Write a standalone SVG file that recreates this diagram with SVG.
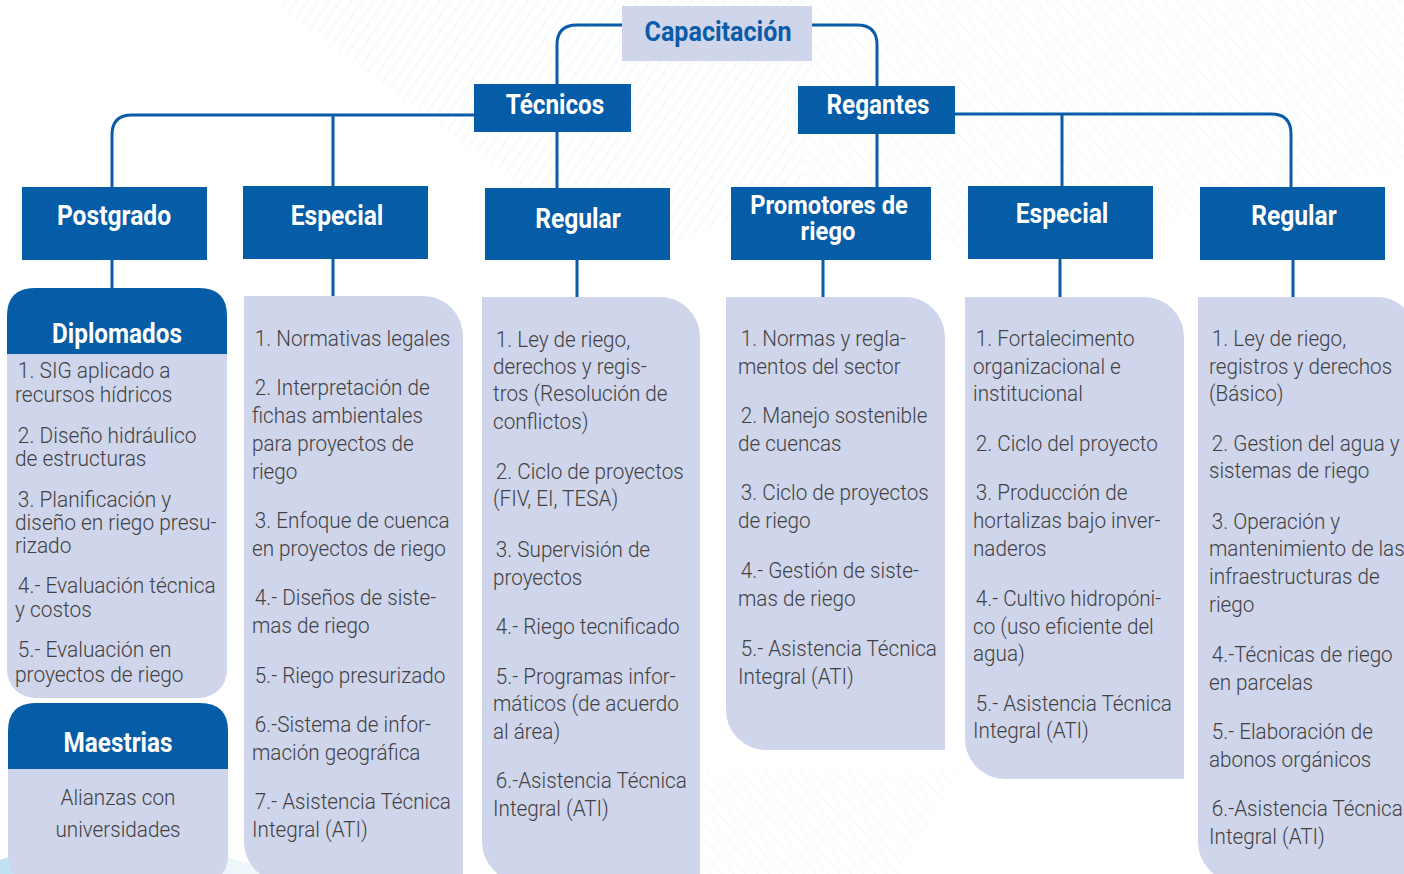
<svg xmlns="http://www.w3.org/2000/svg" width="1404" height="874" viewBox="0 0 1404 874">
<style>
.bx{fill:#055ca7}
.pn{fill:#cfd5ea}
.hd{font-family:Roboto,"Liberation Sans",sans-serif;font-weight:700;fill:#ffffff;text-anchor:middle}
.tt{font-family:Roboto,"Liberation Sans",sans-serif;font-weight:700;fill:#0a5ca8;text-anchor:middle}
.it{font-family:Roboto,"Liberation Sans",sans-serif;font-weight:300;font-size:22px;fill:#414143}
.ln{fill:none;stroke:#0a5ca8;stroke-width:3}
</style>
<defs>
<pattern id="hatch1" width="9" height="9" patternUnits="userSpaceOnUse" patternTransform="rotate(35)">
<line x1="0" y1="0" x2="0" y2="9" stroke="#dcf0f4" stroke-width="1"/>
</pattern>
<pattern id="hatch2" width="9" height="9" patternUnits="userSpaceOnUse" patternTransform="rotate(-40)">
<line x1="0" y1="0" x2="0" y2="9" stroke="#e6f3f6" stroke-width="1"/>
</pattern>
<linearGradient id="sw" x1="0" y1="0" x2="1" y2="0">
<stop offset="0" stop-color="#7fc3df" stop-opacity="0.5"/>
<stop offset="1" stop-color="#bfe3ef" stop-opacity="0.2"/>
</linearGradient>
</defs>
<rect width="1404" height="874" fill="#ffffff"/>
<path d="M270 0 L820 0 L800 200 L620 260 Z" fill="url(#hatch1)"/>
<path d="M820 0 L1404 0 L1404 170 L1000 260 L800 200 Z" fill="url(#hatch2)"/>
<path d="M700 770 L960 770 L900 874 L690 874 Z" fill="url(#hatch2)"/>
<path d="M0 860 Q120 815 280 874 L0 874 Z" fill="url(#sw)"/>

<g id="connectors">
<path class="ln" d="M622 25 H577 Q557 25 557 45 V84"/>
<path class="ln" d="M812 25 H857 Q877 25 877 45 V86"/>
<path class="ln" d="M474 115 H132 Q112 115 112 135 V187"/>
<path class="ln" d="M333 115 V186"/>
<path class="ln" d="M557 132 V188"/>
<path class="ln" d="M955 114 H1271 Q1291 114 1291 134 V187"/>
<path class="ln" d="M1062 114 V186"/>
<path class="ln" d="M877 134 V187"/>
<path class="ln" d="M112 260 V288"/>
<path class="ln" d="M333 259 V296"/>
<path class="ln" d="M577 260 V297"/>
<path class="ln" d="M823 260 V297"/>
<path class="ln" d="M1060 259 V297"/>
<path class="ln" d="M1293 260 V297"/>
</g>

<g id="capacitacion">
<rect x="622" y="6" width="190" height="55" fill="#cfd5ea"/>
<text class="tt" font-size="27" transform="translate(718,41) scale(0.93,1)">Capacitación</text>
</g>
<g id="tecnicos">
<rect class="bx" x="474" y="84" width="157" height="48"/>
<text class="hd" font-size="27" transform="translate(555,114) scale(0.9,1)">Técnicos</text>
</g>
<g id="regantes">
<rect class="bx" x="798" y="86" width="157" height="48"/>
<text class="hd" font-size="27" transform="translate(878,114) scale(0.9,1)">Regantes</text>
</g>

<g id="postgrado">
<rect class="bx" x="22" y="187" width="185" height="73"/>
<text class="hd" font-size="28" transform="translate(114,225) scale(0.88,1)">Postgrado</text>
</g>
<g id="especial-t">
<rect class="bx" x="243" y="186" width="185" height="73"/>
<text class="hd" font-size="28" transform="translate(337,225) scale(0.88,1)">Especial</text>
</g>
<g id="regular-t">
<rect class="bx" x="485" y="188" width="185" height="72"/>
<text class="hd" font-size="28" transform="translate(578,228) scale(0.88,1)">Regular</text>
</g>
<g id="promotores">
<rect class="bx" x="731" y="187" width="200" height="73"/>
<text class="hd" font-size="25" transform="translate(829,214) scale(0.95,1)">Promotores de</text>
<text class="hd" font-size="25" transform="translate(828,240) scale(0.95,1)">riego</text>
</g>
<g id="especial-r">
<rect class="bx" x="968" y="186" width="185" height="73"/>
<text class="hd" font-size="28" transform="translate(1062,223) scale(0.88,1)">Especial</text>
</g>
<g id="regular-r">
<rect class="bx" x="1200" y="187" width="185" height="73"/>
<text class="hd" font-size="28" transform="translate(1294,225) scale(0.88,1)">Regular</text>
</g>

<g id="diplomados">
<rect class="pn" x="7" y="288" width="220" height="410" rx="28"/>
<path class="bx" d="M7 354 V316 Q7 288 35 288 H199 Q227 288 227 316 V354 Z"/>
<text class="hd" font-size="27" transform="translate(117,343) scale(0.9,1)">Diplomados</text>
<g transform="translate(15,0) scale(0.95,1)">
<text class="it" font-size="21" x="3" y="378">1. SIG aplicado a</text>
<text class="it" font-size="21" x="0" y="402">recursos hídricos</text>
<text class="it" font-size="21" x="3" y="443">2. Diseño hidráulico</text>
<text class="it" font-size="21" x="0" y="466">de estructuras</text>
<text class="it" font-size="21" x="3" y="507">3. Planificación y</text>
<text class="it" font-size="21" x="0" y="530">diseño en riego presu-</text>
<text class="it" font-size="21" x="0" y="553">rizado</text>
<text class="it" font-size="21" x="3" y="593">4.- Evaluación técnica</text>
<text class="it" font-size="21" x="0" y="617">y costos</text>
<text class="it" font-size="21" x="3" y="657">5.- Evaluación en</text>
<text class="it" font-size="21" x="0" y="682">proyectos de riego</text>
</g>
</g>

<g id="maestrias">
<rect class="pn" x="8" y="703" width="220" height="182" rx="28"/>
<path class="bx" d="M8 769 V731 Q8 703 36 703 H200 Q228 703 228 731 V769 Z"/>
<text class="hd" font-size="27" transform="translate(118,752) scale(0.9,1)">Maestrias</text>
<g transform="translate(118,0) scale(0.94,1)">
<text class="it" x="0" y="805" text-anchor="middle">Alianzas con</text>
<text class="it" x="0" y="837" text-anchor="middle">universidades</text>
</g>
</g>

<g id="panel-especial-t">
<path class="pn" d="M244 296 H423 A40 40 0 0 1 463 336 V882 H284 A40 40 0 0 1 244 842 Z"/>
<g transform="translate(252,0) scale(0.94,1)">
<text class="it" x="3" y="346">1. Normativas legales</text>
<text class="it" x="3" y="395">2. Interpretación de</text>
<text class="it" x="0" y="423">fichas ambientales</text>
<text class="it" x="0" y="451">para proyectos de</text>
<text class="it" x="0" y="479">riego</text>
<text class="it" x="3" y="528">3. Enfoque de cuenca</text>
<text class="it" x="0" y="556">en proyectos de riego</text>
<text class="it" x="3" y="605">4.- Diseños de siste-</text>
<text class="it" x="0" y="633">mas de riego</text>
<text class="it" x="3" y="683">5.- Riego presurizado</text>
<text class="it" x="3" y="732">6.-Sistema de infor-</text>
<text class="it" x="0" y="760">mación geográfica</text>
<text class="it" x="3" y="809">7.- Asistencia Técnica</text>
<text class="it" x="0" y="837">Integral (ATI)</text>
</g>
</g>

<g id="panel-regular-t">
<path class="pn" d="M482 297 H660 A40 40 0 0 1 700 337 V882 H522 A40 40 0 0 1 482 842 Z"/>
<g transform="translate(493,0) scale(0.94,1)">
<text class="it" x="3" y="347">1. Ley de riego,</text>
<text class="it" x="0" y="374">derechos y regis-</text>
<text class="it" x="0" y="401">tros (Resolución de</text>
<text class="it" x="0" y="429">conflictos)</text>
<text class="it" x="3" y="479">2. Ciclo de proyectos</text>
<text class="it" x="0" y="506">(FIV, EI, TESA)</text>
<text class="it" x="3" y="557">3. Supervisión de</text>
<text class="it" x="0" y="585">proyectos</text>
<text class="it" x="3" y="634">4.- Riego tecnificado</text>
<text class="it" x="3" y="684">5.- Programas infor-</text>
<text class="it" x="0" y="711">máticos (de acuerdo</text>
<text class="it" x="0" y="739">al área)</text>
<text class="it" x="3" y="788">6.-Asistencia Técnica</text>
<text class="it" x="0" y="816">Integral (ATI)</text>
</g>
</g>

<g id="panel-promotores">
<path class="pn" d="M726 297 H905 A40 40 0 0 1 945 337 V750 H766 A40 40 0 0 1 726 710 Z"/>
<g transform="translate(738,0) scale(0.94,1)">
<text class="it" x="3" y="346">1. Normas y regla-</text>
<text class="it" x="0" y="374">mentos del sector</text>
<text class="it" x="3" y="423">2. Manejo sostenible</text>
<text class="it" x="0" y="451">de cuencas</text>
<text class="it" x="3" y="500">3. Ciclo de proyectos</text>
<text class="it" x="0" y="528">de riego</text>
<text class="it" x="3" y="578">4.- Gestión de siste-</text>
<text class="it" x="0" y="606">mas de riego</text>
<text class="it" x="3" y="656">5.- Asistencia Técnica</text>
<text class="it" x="0" y="684">Integral (ATI)</text>
</g>
</g>

<g id="panel-especial-r">
<path class="pn" d="M965 297 H1144 A40 40 0 0 1 1184 337 V779 H1005 A40 40 0 0 1 965 739 Z"/>
<g transform="translate(973,0) scale(0.94,1)">
<text class="it" x="3" y="346">1. Fortalecimento</text>
<text class="it" x="0" y="374">organizacional e</text>
<text class="it" x="0" y="401">institucional</text>
<text class="it" x="3" y="451">2. Ciclo del proyecto</text>
<text class="it" x="3" y="500">3. Producción de</text>
<text class="it" x="0" y="528">hortalizas bajo inver-</text>
<text class="it" x="0" y="556">naderos</text>
<text class="it" x="3" y="606">4.- Cultivo hidropóni-</text>
<text class="it" x="0" y="634">co (uso eficiente del</text>
<text class="it" x="0" y="661">agua)</text>
<text class="it" x="3" y="711">5.- Asistencia Técnica</text>
<text class="it" x="0" y="738">Integral (ATI)</text>
</g>
</g>

<g id="panel-regular-r">
<path class="pn" d="M1198 297 H1377 A40 40 0 0 1 1417 337 V882 H1238 A40 40 0 0 1 1198 842 Z"/>
<g transform="translate(1209,0) scale(0.94,1)">
<text class="it" x="3" y="346">1. Ley de riego,</text>
<text class="it" x="0" y="374">registros y derechos</text>
<text class="it" x="0" y="401">(Básico)</text>
<text class="it" x="3" y="451">2. Gestion del agua y</text>
<text class="it" x="0" y="478">sistemas de riego</text>
<text class="it" x="3" y="529">3. Operación y</text>
<text class="it" x="0" y="556">mantenimiento de las</text>
<text class="it" x="0" y="584">infraestructuras de</text>
<text class="it" x="0" y="612">riego</text>
<text class="it" x="3" y="662">4.-Técnicas de riego</text>
<text class="it" x="0" y="690">en parcelas</text>
<text class="it" x="3" y="739">5.- Elaboración de</text>
<text class="it" x="0" y="767">abonos orgánicos</text>
<text class="it" x="3" y="816">6.-Asistencia Técnica</text>
<text class="it" x="0" y="844">Integral (ATI)</text>
</g>
</g>
</svg>
